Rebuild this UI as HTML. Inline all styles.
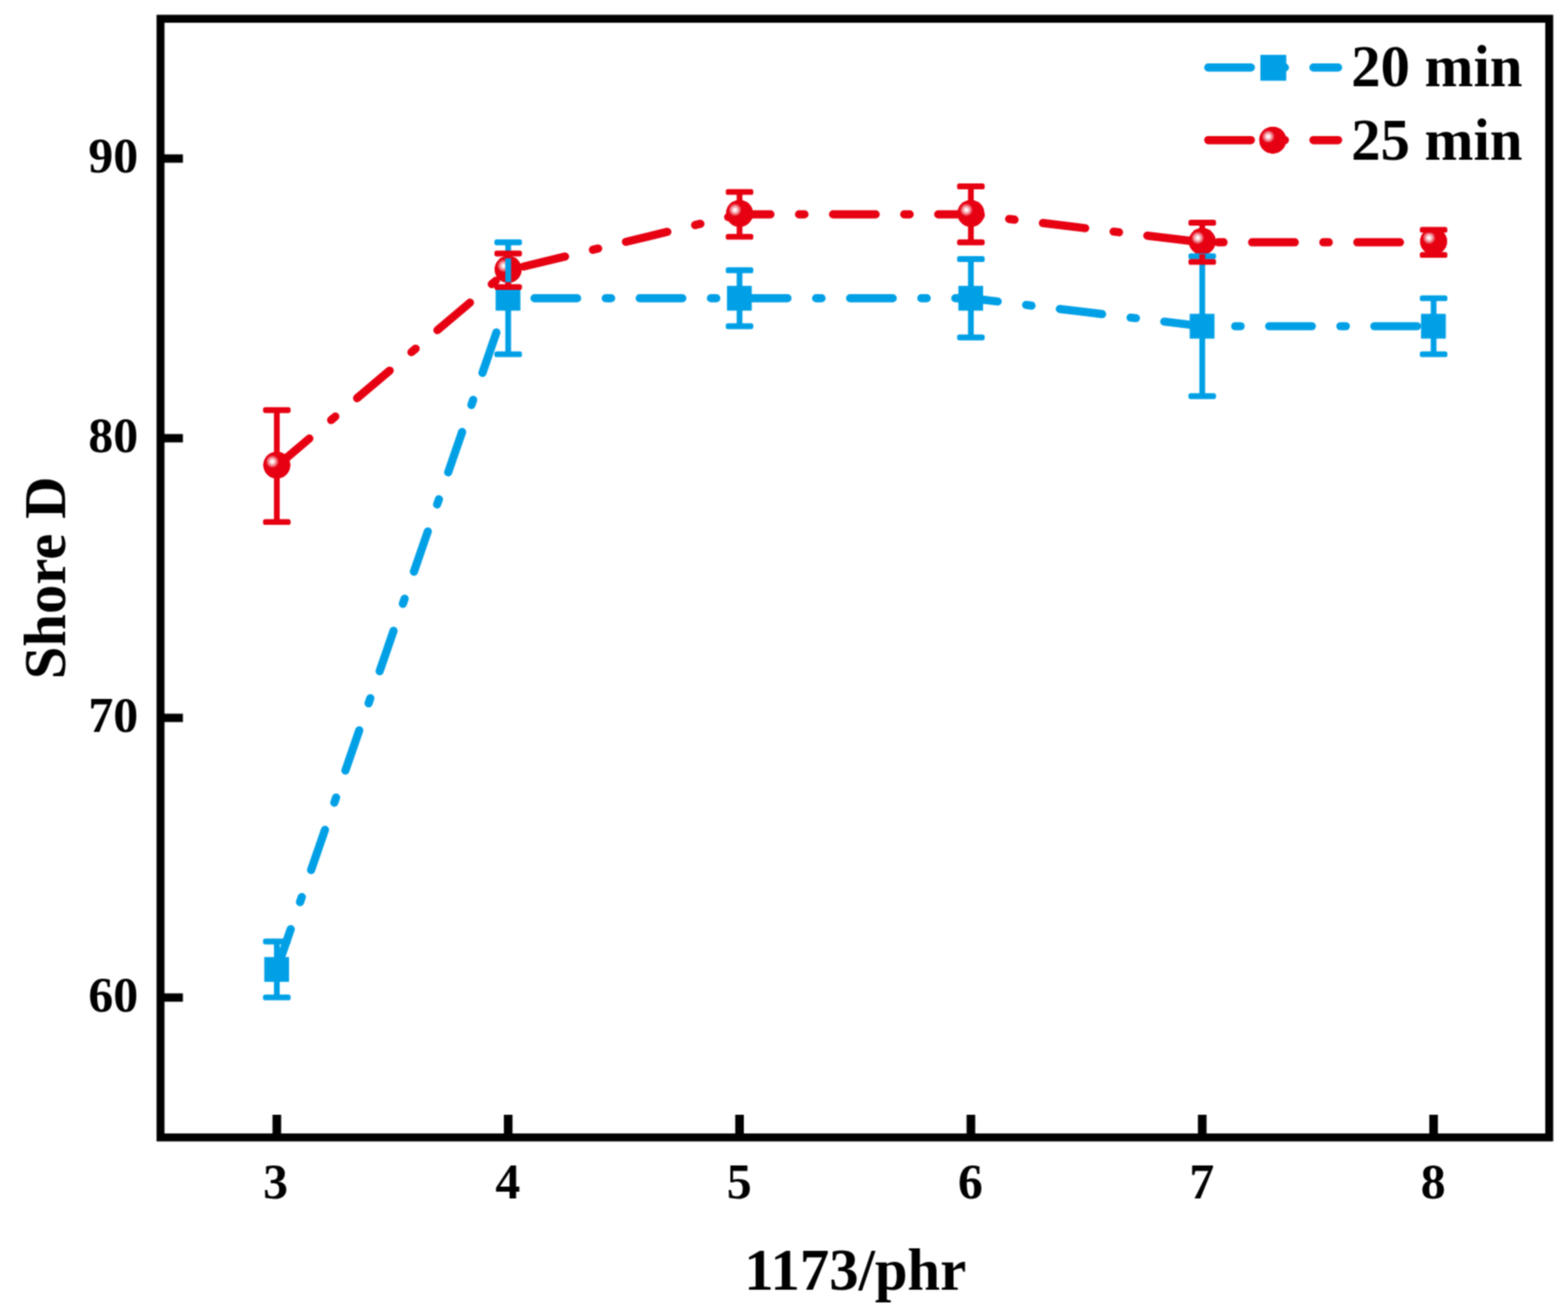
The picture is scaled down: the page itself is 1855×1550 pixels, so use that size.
<!DOCTYPE html>
<html lang="en"><head><meta charset="utf-8"><title>Shore D - 1173/phr</title>
<style>
html,body{margin:0;padding:0;background:#fff;}
body{width:1855px;height:1550px;overflow:hidden;}
svg{display:block;}
text{font-family:"Liberation Serif","DejaVu Serif",serif;font-weight:700;fill:#000;}
.tick{font-size:59px;}
.ttl{font-size:69.5px;}
.ln{fill:none;stroke-width:9.7;stroke-linecap:round;stroke-linejoin:round;stroke-dasharray:50.4 33.85 6.4 33.8;}
.ebv{fill:none;stroke-width:6.8;stroke-linecap:butt;}
</style></head><body>
<svg width="1855" height="1550" viewBox="0 0 1855 1550">
<defs><radialGradient id="ball" cx="0.333" cy="0.367" r="0.245" fx="0.333" fy="0.367"><stop offset="0" stop-color="#fff"/><stop offset="0.13" stop-color="#fff"/><stop offset="0.36" stop-color="#f9c6ca"/><stop offset="0.6" stop-color="#f08a93"/><stop offset="0.82" stop-color="#ea3f4d"/><stop offset="1" stop-color="#e60012"/></radialGradient></defs>
<defs><filter id="soft" x="0" y="0" width="1855" height="1550" filterUnits="userSpaceOnUse" color-interpolation-filters="sRGB"><feConvolveMatrix order="3" kernelMatrix="1 2 1 2 4 2 1 2 1" edgeMode="duplicate" preserveAlpha="true"/></filter></defs>
<rect x="0" y="0" width="1855" height="1550" fill="#fff"/>
<g id="chart" filter="url(#soft)">
<rect x="0" y="0" width="1855" height="1550" fill="#fff"/>
<g id="series-20min">
<polyline class="ln" stroke="#00a0e6" points="327.50,1147.06 601.20,352.90 874.90,352.90 1148.60,352.90 1422.30,385.99 1696.00,385.99"/>
<rect x="312.65" y="1132.41" width="29.30" height="29.30" fill="#00a0e6"/>
<rect x="586.35" y="338.25" width="29.30" height="29.30" fill="#00a0e6"/>
<rect x="860.05" y="338.25" width="29.30" height="29.30" fill="#00a0e6"/>
<rect x="1133.75" y="338.25" width="29.30" height="29.30" fill="#00a0e6"/>
<rect x="1407.45" y="371.34" width="29.30" height="29.30" fill="#00a0e6"/>
<rect x="1681.15" y="371.34" width="29.30" height="29.30" fill="#00a0e6"/>
</g>
<g id="series-25min">
<polyline class="ln" stroke="#e60012" points="327.50,551.44 601.20,319.81"/>
<polyline class="ln" stroke="#e60012" stroke-dashoffset="105.60" points="601.20,319.81 874.90,253.63 1148.60,253.63 1422.30,286.72 1696.00,286.72"/>
<circle cx="327.50" cy="550.34" r="15.90" fill="#e60012"/>
<circle cx="327.50" cy="550.34" r="15.90" fill="url(#ball)"/>
<circle cx="601.20" cy="318.71" r="15.90" fill="#e60012"/>
<circle cx="601.20" cy="318.71" r="15.90" fill="url(#ball)"/>
<circle cx="874.90" cy="252.53" r="15.90" fill="#e60012"/>
<circle cx="874.90" cy="252.53" r="15.90" fill="url(#ball)"/>
<circle cx="1148.60" cy="252.53" r="15.90" fill="#e60012"/>
<circle cx="1148.60" cy="252.53" r="15.90" fill="url(#ball)"/>
<circle cx="1422.30" cy="285.62" r="15.90" fill="#e60012"/>
<circle cx="1422.30" cy="285.62" r="15.90" fill="url(#ball)"/>
<circle cx="1696.00" cy="285.62" r="15.90" fill="#e60012"/>
<circle cx="1696.00" cy="285.62" r="15.90" fill="url(#ball)"/>
</g>
<g id="errors-20min">
<line class="ebv" stroke="#00a0e6" x1="327.50" y1="1113.97" x2="327.50" y2="1180.15"/>
<rect x="311.20" y="1110.52" width="32.60" height="6.90" rx="2.6" fill="#00a0e6"/>
<rect x="311.20" y="1176.70" width="32.60" height="6.90" rx="2.6" fill="#00a0e6"/>
<line class="ebv" stroke="#00a0e6" x1="601.20" y1="286.72" x2="601.20" y2="419.08"/>
<rect x="584.90" y="283.27" width="32.60" height="6.90" rx="2.6" fill="#00a0e6"/>
<rect x="584.90" y="415.63" width="32.60" height="6.90" rx="2.6" fill="#00a0e6"/>
<line class="ebv" stroke="#00a0e6" x1="874.90" y1="319.81" x2="874.90" y2="385.99"/>
<rect x="858.60" y="316.36" width="32.60" height="6.90" rx="2.6" fill="#00a0e6"/>
<rect x="858.60" y="382.54" width="32.60" height="6.90" rx="2.6" fill="#00a0e6"/>
<line class="ebv" stroke="#00a0e6" x1="1148.60" y1="306.57" x2="1148.60" y2="399.23"/>
<rect x="1132.30" y="303.12" width="32.60" height="6.90" rx="2.6" fill="#00a0e6"/>
<rect x="1132.30" y="395.78" width="32.60" height="6.90" rx="2.6" fill="#00a0e6"/>
<line class="ebv" stroke="#00a0e6" x1="1422.30" y1="303.27" x2="1422.30" y2="468.72"/>
<rect x="1406.00" y="299.82" width="32.60" height="6.90" rx="2.6" fill="#00a0e6"/>
<rect x="1406.00" y="465.27" width="32.60" height="6.90" rx="2.6" fill="#00a0e6"/>
<line class="ebv" stroke="#00a0e6" x1="1696.00" y1="352.90" x2="1696.00" y2="419.08"/>
<rect x="1679.70" y="349.45" width="32.60" height="6.90" rx="2.6" fill="#00a0e6"/>
<rect x="1679.70" y="415.63" width="32.60" height="6.90" rx="2.6" fill="#00a0e6"/>
</g>
<g id="errors-25min">
<line class="ebv" stroke="#e60012" x1="327.50" y1="485.26" x2="327.50" y2="537.44"/>
<line class="ebv" stroke="#e60012" x1="327.50" y1="565.44" x2="327.50" y2="617.62"/>
<rect x="311.20" y="481.81" width="32.60" height="6.90" rx="2.6" fill="#e60012"/>
<rect x="311.20" y="614.17" width="32.60" height="6.90" rx="2.6" fill="#e60012"/>
<line class="ebv" stroke="#e60012" x1="601.20" y1="299.96" x2="601.20" y2="305.81"/>
<line class="ebv" stroke="#e60012" x1="601.20" y1="333.81" x2="601.20" y2="339.66"/>
<rect x="584.90" y="296.51" width="32.60" height="6.90" rx="2.6" fill="#e60012"/>
<rect x="584.90" y="336.21" width="32.60" height="6.90" rx="2.6" fill="#e60012"/>
<line class="ebv" stroke="#e60012" x1="874.90" y1="227.16" x2="874.90" y2="239.63"/>
<line class="ebv" stroke="#e60012" x1="874.90" y1="267.63" x2="874.90" y2="280.10"/>
<rect x="858.60" y="223.71" width="32.60" height="6.90" rx="2.6" fill="#e60012"/>
<rect x="858.60" y="276.65" width="32.60" height="6.90" rx="2.6" fill="#e60012"/>
<line class="ebv" stroke="#e60012" x1="1148.60" y1="220.54" x2="1148.60" y2="239.63"/>
<line class="ebv" stroke="#e60012" x1="1148.60" y1="267.63" x2="1148.60" y2="286.72"/>
<rect x="1132.30" y="217.09" width="32.60" height="6.90" rx="2.6" fill="#e60012"/>
<rect x="1132.30" y="283.27" width="32.60" height="6.90" rx="2.6" fill="#e60012"/>
<line class="ebv" stroke="#e60012" x1="1422.30" y1="263.56" x2="1422.30" y2="272.72"/>
<line class="ebv" stroke="#e60012" x1="1422.30" y1="300.72" x2="1422.30" y2="309.88"/>
<rect x="1406.00" y="260.11" width="32.60" height="6.90" rx="2.6" fill="#e60012"/>
<rect x="1406.00" y="306.43" width="32.60" height="6.90" rx="2.6" fill="#e60012"/>
<line class="ebv" stroke="#e60012" x1="1696.00" y1="271.83" x2="1696.00" y2="272.72"/>
<line class="ebv" stroke="#e60012" x1="1696.00" y1="300.72" x2="1696.00" y2="301.61"/>
<rect x="1679.70" y="268.38" width="32.60" height="6.90" rx="2.6" fill="#e60012"/>
<rect x="1679.70" y="298.16" width="32.60" height="6.90" rx="2.6" fill="#e60012"/>
</g>
<g id="axes" stroke="#000" fill="none">
<rect x="189.90" y="22.20" width="1642.90" height="1323.60" stroke-width="9.4"/>
<line x1="189.90" y1="1180.30" x2="216.40" y2="1180.30" stroke-width="9.9"/>
<line x1="189.90" y1="849.40" x2="216.40" y2="849.40" stroke-width="9.9"/>
<line x1="189.90" y1="518.50" x2="216.40" y2="518.50" stroke-width="9.9"/>
<line x1="189.90" y1="187.60" x2="216.40" y2="187.60" stroke-width="9.9"/>
<line x1="327.50" y1="1345.80" x2="327.50" y2="1319.00" stroke-width="10.2"/>
<line x1="601.20" y1="1345.80" x2="601.20" y2="1319.00" stroke-width="10.2"/>
<line x1="874.90" y1="1345.80" x2="874.90" y2="1319.00" stroke-width="10.2"/>
<line x1="1148.60" y1="1345.80" x2="1148.60" y2="1319.00" stroke-width="10.2"/>
<line x1="1422.30" y1="1345.80" x2="1422.30" y2="1319.00" stroke-width="10.2"/>
<line x1="1696.00" y1="1345.80" x2="1696.00" y2="1319.00" stroke-width="10.2"/>
</g>
<g id="ticklabels">
<text class="tick" text-anchor="end" x="163.40" y="1197.15">60</text>
<text class="tick" text-anchor="end" x="163.40" y="866.25">70</text>
<text class="tick" text-anchor="end" x="163.40" y="535.35">80</text>
<text class="tick" text-anchor="end" x="163.40" y="204.45">90</text>
<text class="tick" text-anchor="middle" x="326.00" y="1417.60">3</text>
<text class="tick" text-anchor="middle" x="600.70" y="1417.60">4</text>
<text class="tick" text-anchor="middle" x="874.40" y="1417.60">5</text>
<text class="tick" text-anchor="middle" x="1148.10" y="1417.60">6</text>
<text class="tick" text-anchor="middle" x="1421.80" y="1417.60">7</text>
<text class="tick" text-anchor="middle" x="1695.50" y="1417.60">8</text>
</g>
<text class="ttl" text-anchor="middle" x="1011.8" y="1526.2">1173/phr</text>
<text class="ttl" text-anchor="middle" transform="translate(76.6 683.8) rotate(-90)">Shore D</text>
<g id="legend">
<line class="ln" stroke="#00a0e6" x1="1429.40" y1="79.90" x2="1583.00" y2="79.90"/>
<rect x="1491.10" y="64.90" width="30.60" height="30.60" fill="#00a0e6"/>
<text class="ttl" x="1598.40" y="101.90">20 min</text>
<line class="ln" stroke="#e60012" x1="1429.40" y1="165.80" x2="1583.00" y2="165.80"/>
<circle cx="1505.70" cy="165.80" r="15.90" fill="#e60012"/>
<circle cx="1505.70" cy="165.80" r="15.90" fill="url(#ball)"/>
<text class="ttl" x="1598.40" y="188.70">25 min</text>
</g>
</g>
</svg>
</body></html>
